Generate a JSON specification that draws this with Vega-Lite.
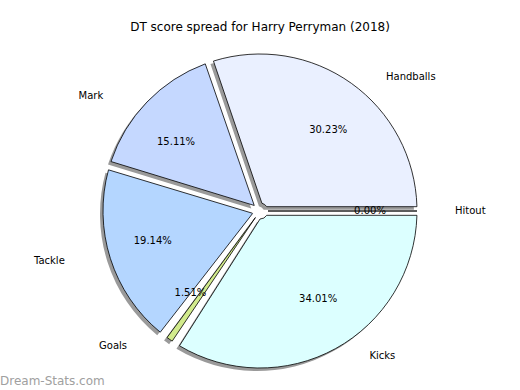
{
  "$schema": "https://vega.github.io/schema/vega-lite/v6.json",
  "padding": {"top": 21, "left": 0, "right": 0, "bottom": 0},
  "title": {"text": "DT score spread for Harry Perryman (2018)", "font": "DejaVu Sans", "fontSize": 12, "fontWeight": "normal", "color": "#000000", "anchor": "middle", "offset": 14},
  "config": {"view": {"stroke": null}, "concat": {"spacing": 0}, "text": {"font": "DejaVu Sans"}},
  "vconcat": [
    {
      "width": 520,
      "height": 326,
      "title": {"text": "Dream-Stats.com", "orient": "bottom", "anchor": "start", "font": "DejaVu Sans", "fontSize": 12, "fontWeight": "normal", "color": "#a0a0a0", "offset": 2},
      "data": {
        "values": [
          {"category": "Hitout", "share": 0.0},
          {"category": "Kicks", "share": 0.3401},
          {"category": "Goals", "share": 0.0151},
          {"category": "Tackle", "share": 0.1914},
          {"category": "Mark", "share": 0.1511},
          {"category": "Handballs", "share": 0.3023}
        ]
      },
      "transform": [{"window": [{"op": "row_number", "as": "idx"}]}],
      "encoding": {
        "theta": {"field": "share", "type": "quantitative", "stack": true, "scale": {"range": [1.5708, 7.854]}},
        "order": {"field": "idx", "type": "quantitative"}
      },
      "layer": [
        {
          "mark": {"type": "arc", "outerRadius": 157, "innerRadius": 8, "padAngle": 0.055, "fill": "#9a9a9a", "xOffset": -3, "yOffset": 3}
        },
        {
          "mark": {"type": "arc", "outerRadius": 157, "innerRadius": 8, "padAngle": 0.055, "stroke": "#000000", "strokeWidth": 0.8},
          "encoding": {
            "fill": {"field": "category", "type": "nominal", "legend": null,
              "scale": {"domain": ["Handballs", "Hitout", "Kicks", "Goals", "Tackle", "Mark"],
                        "range": ["#eaf0ff", "#ffe0e0", "#dcffff", "#d2eb8c", "#b4d6ff", "#c5d8ff"]}}
          }
        },
        {
          "mark": {"type": "text", "radius": 100, "dx": 10, "fontSize": 10, "color": "#000000", "align": "center", "baseline": "middle"},
          "encoding": {"text": {"condition": {"test": "indexof(['Handballs','Hitout','Kicks'], datum.category) >= 0", "field": "share", "format": ".2%"}, "value": ""}}
        },
        {
          "mark": {"type": "text", "radius": 100, "dx": -12, "fontSize": 10, "color": "#000000", "align": "center", "baseline": "middle"},
          "encoding": {"text": {"condition": {"test": "indexof(['Mark','Tackle','Goals'], datum.category) >= 0", "field": "share", "format": ".2%"}, "value": ""}}
        },
        {
          "mark": {"type": "text", "radius": 165, "dx": 30, "fontSize": 10, "color": "#000000", "align": "left", "baseline": "middle"},
          "encoding": {"text": {"condition": {"test": "indexof(['Handballs','Hitout','Kicks'], datum.category) >= 0", "field": "category"}, "value": ""}}
        },
        {
          "mark": {"type": "text", "radius": 165, "dx": -38, "fontSize": 10, "color": "#000000", "align": "right", "baseline": "middle"},
          "encoding": {"text": {"condition": {"test": "indexof(['Mark','Tackle','Goals'], datum.category) >= 0", "field": "category"}, "value": ""}}
        }
      ]
    }
  ]
}
